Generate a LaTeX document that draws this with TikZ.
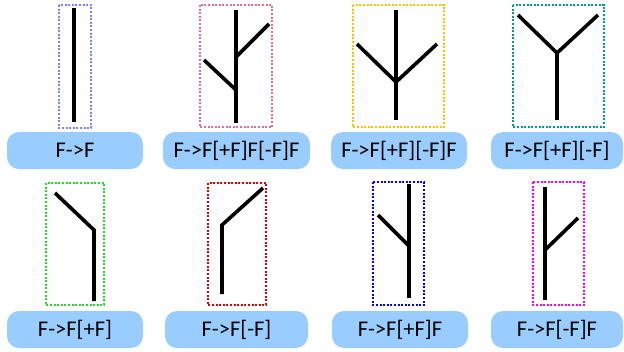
\documentclass[tikz,border=0pt]{standalone}
\usepackage{fontspec}
\setmainfont{Carlito}
\definecolor{lblfill}{HTML}{99CCFF}
\definecolor{cA}{HTML}{8080FF}
\definecolor{cB}{HTML}{E0708F}
\definecolor{cC}{HTML}{FFC000}
\definecolor{cD}{HTML}{00999A}
\definecolor{cE}{HTML}{22DD22}
\definecolor{cF}{HTML}{E00000}
\definecolor{cG}{HTML}{0000FF}
\definecolor{cH}{HTML}{FF00FF}
\begin{document}
\begin{tikzpicture}[x=1pt,y=-1pt,
  lbl/.style={fill=lblfill, rounded corners=12pt, inner sep=0pt, font=\fontsize{22.5}{24}\selectfont, text=black},
  frame/.style={line width=2.2pt, dash pattern=on 2pt off 1.6pt},
  stem/.style={line width=3.6pt, black, line join=miter}]
\useasboundingbox (0,0) rectangle (624,351);
% labels
\node[lbl, minimum width=136pt, minimum height=37pt] (l1) at (75,150.5) {F->F};
\node[lbl, minimum width=147pt, minimum height=37pt] (l2) at (236.5,150.5) {F->F[+F]F[-F]F};
\node[lbl, minimum width=136pt, minimum height=37pt] (l3) at (399,150.5) {F->F[+F][-F]F};
\node[lbl, minimum width=132pt, minimum height=37pt] (l4) at (557,150.5) {F->F[+F][-F]};
\node[lbl, minimum width=136pt, minimum height=37pt] (l5) at (75,329.5) {F->F[+F]};
\node[lbl, minimum width=143pt, minimum height=37pt] (l6) at (236.5,329.5) {F->F[-F]};
\node[lbl, minimum width=136pt, minimum height=37pt] (l7) at (400,329.5) {F->F[+F]F};
\node[lbl, minimum width=132pt, minimum height=37pt] (l8) at (557,329.5) {F->F[-F]F};
% frames
\draw[frame, cA] (59,5) rectangle (91,128);
\draw[frame, cB] (200,5) rectangle (272,127);
\draw[frame, cC] (353,5) rectangle (444,127);
\draw[frame, cD] (513,5) rectangle (604,127);
\draw[frame, cE] (46,183) rectangle (104,305);
\draw[frame, cF] (208,183) rectangle (266,305);
\draw[frame, cG] (373,182) rectangle (424,305);
\draw[frame, cH] (533,182) rectangle (584,305);
% tree 1
\coordinate (a0) at (74,122); \coordinate (a1) at (74,8);
\draw[stem] (a0) -- (a1);
% tree 2
\coordinate (b0) at (236,123); \coordinate (b1) at (236,90); \coordinate (b2) at (236,57);
\coordinate (b3) at (236,10); \coordinate (bl) at (204,60); \coordinate (br) at (269,24);
\draw[stem] (b0) -- (b3);
\draw[stem] (b1) -- (bl);
\draw[stem] (b2) -- (br);
% tree 3
\coordinate (c0) at (396,120); \coordinate (c1) at (396,82); \coordinate (c2) at (396,10);
\coordinate (cl) at (357,44); \coordinate (cr) at (437,44);
\draw[stem] (c0) -- (c2);
\draw[stem] (c1) -- (cl);
\draw[stem] (c1) -- (cr);
% tree 4
\coordinate (d0) at (557,120); \coordinate (d1) at (557,53);
\coordinate (dl) at (518,15); \coordinate (dr) at (598,15);
\draw[stem] (d0) -- (d1);
\draw[stem] (d1) -- (dl);
\draw[stem] (d1) -- (dr);
% tree 5
\coordinate (e0) at (94,301); \coordinate (e1) at (94,230); \coordinate (el) at (55,193);
\draw[stem] (e0) -- (e1) -- (el);
% tree 6
\coordinate (f0) at (222,294); \coordinate (f1) at (222,225); \coordinate (fr) at (263,188);
\draw[stem] (f0) -- (f1) -- (fr);
% tree 7
\coordinate (g0) at (409,298); \coordinate (g1) at (409,246); \coordinate (g2) at (409,184);
\coordinate (gl) at (378,215);
\draw[stem] (g0) -- (g2);
\draw[stem] (g1) -- (gl);
% tree 8
\coordinate (h0) at (545,300); \coordinate (h1) at (545,250); \coordinate (h2) at (545,187);
\coordinate (hr) at (578,218);
\draw[stem] (h0) -- (h2);
\draw[stem] (h1) -- (hr);
\end{tikzpicture}
\end{document}
